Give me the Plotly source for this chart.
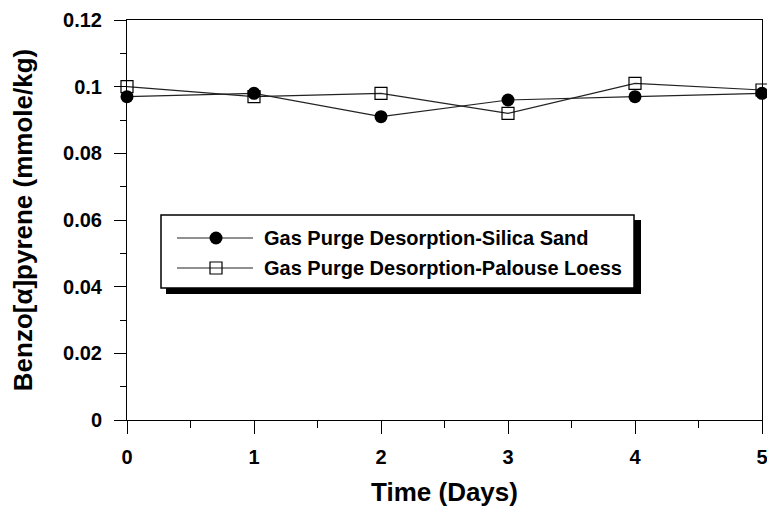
import plotly.graph_objects as go

# ---- data ----
days = [0, 1, 2, 3, 4, 5]
silica_sand = [0.097, 0.098, 0.091, 0.096, 0.097, 0.098]
palouse_loess = [0.100, 0.097, 0.098, 0.092, 0.101, 0.099]
series_names = ["Gas Purge Desorption-Silica Sand", "Gas Purge Desorption-Palouse Loess"]
y_tickvals = [0, 0.02, 0.04, 0.06, 0.08, 0.1, 0.12]
y_ticktext = ["0", "0.02", "0.04", "0.06", "0.08", "0.1", "0.12"]
x_tickvals = [0, 1, 2, 3, 4, 5]

FONT = "Liberation Sans, Arial, sans-serif"
LINE = "#222222"

fig = go.Figure()
fig.add_trace(go.Scatter(
    x=days, y=palouse_loess, mode="lines+markers", name=series_names[1],
    line=dict(color=LINE, width=1.2),
    marker=dict(symbol="square-open", size=12, color="black", line=dict(width=1.2)),
    showlegend=False, cliponaxis=False))
fig.add_trace(go.Scatter(
    x=days, y=silica_sand, mode="lines+markers", name=series_names[0],
    line=dict(color=LINE, width=1.2),
    marker=dict(symbol="circle", size=13, color="black"),
    showlegend=False, cliponaxis=False))

# ---- manual legend (box with drop shadow) ----
# helpers convert reference-image pixels into plot-area (paper) fractions
def px_x(p):
    return (p - 127) / 635.0

def px_y(p):
    return (420 - p) / 400.0

shapes = [
    dict(type="rect", xref="paper", yref="paper",
         x0=px_x(166), x1=px_x(641), y0=px_y(294), y1=px_y(220),
         fillcolor="black", line=dict(width=0), layer="below"),
    dict(type="rect", xref="paper", yref="paper",
         x0=px_x(161), x1=px_x(634), y0=px_y(288), y1=px_y(215),
         fillcolor="white", line=dict(color="black", width=1.5), layer="below"),
]
fig.update_layout(shapes=shapes)

rows = [238, 268]
symbols = [dict(symbol="circle", size=13, color="black"),
           dict(symbol="square-open", size=12, color="black", line=dict(width=1.2))]
for i, (name, sym) in enumerate(zip(series_names, symbols)):
    yy = px_y(rows[i])
    fig.add_trace(go.Scatter(
        x=[px_x(177), px_x(253)], y=[yy, yy], mode="lines",
        line=dict(color=LINE, width=1.2), xaxis="x2", yaxis="y2",
        showlegend=False, hoverinfo="skip"))
    fig.add_trace(go.Scatter(
        x=[px_x(216)], y=[yy], mode="markers", marker=sym,
        xaxis="x2", yaxis="y2", showlegend=False, hoverinfo="skip"))
    fig.add_annotation(xref="paper", yref="paper", x=px_x(262), y=yy,
                       text=name, showarrow=False, xanchor="left", yanchor="middle",
                       font=dict(family=FONT, size=20, color="black", weight="bold"))

axis_common = dict(showline=True, linecolor="black", linewidth=1, mirror=True,
                   ticks="outside", tickcolor="black", tickwidth=1,
                   showgrid=False, zeroline=False, automargin=False,
                   tickfont=dict(family=FONT, size=20, color="black", weight="bold"))

# page body has an 8px default margin, so the figure is 8px smaller and shifted
fig.update_layout(
    width=767, height=502,
    margin=dict(l=119, r=13, t=12, b=90),
    paper_bgcolor="white", plot_bgcolor="rgba(0,0,0,0)",
    xaxis=dict(range=[0, 5], tickvals=x_tickvals, ticklen=13,
               minor=dict(dtick=0.5, tick0=0, ticklen=7, ticks="outside", tickcolor="black"),
               ticklabelstandoff=6,
               title=dict(text="Time (Days)", standoff=15,
                          font=dict(family=FONT, size=26, color="black", weight="bold")),
               **axis_common),
    yaxis=dict(range=[0, 0.12], tickvals=y_tickvals, ticktext=y_ticktext, ticklen=12,
               minor=dict(dtick=0.01, tick0=0, ticklen=6, ticks="outside", tickcolor="black"),
               ticklabelstandoff=8,
               title=dict(text="Benzo[α]pyrene (mmole/kg)", standoff=22,
                          font=dict(family=FONT, size=26, color="black", weight="bold")),
               **axis_common),
    xaxis2=dict(range=[0, 1], overlaying="x", visible=False, fixedrange=True),
    yaxis2=dict(range=[0, 1], overlaying="y", visible=False, fixedrange=True),
)

fig.write_html("out.html")
